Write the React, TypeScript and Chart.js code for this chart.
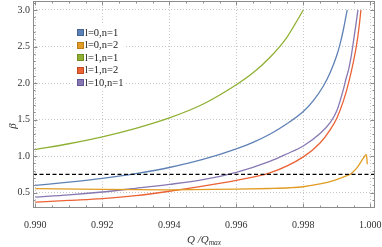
import React, { useEffect, useRef } from "react";
import { Chart, registerables } from "chart.js";

Chart.register(...registerables);

// Axis ranges and ticks
const X_MIN = 0.989931;
const X_MAX = 1.00014;
const Y_MIN = 0.291;
const Y_MAX = 3.123;
const X_TICKS = [0.99, 0.992, 0.994, 0.996, 0.998, 1.0];
const Y_TICKS = [0.5, 1.0, 1.5, 2.0, 2.5, 3.0];
const THRESHOLD = 0.75;

// Series: l=0,n=1 (blue)
const blueX = [0.990, 0.991, 0.992, 0.993, 0.994, 0.995, 0.996, 0.9965, 0.997, 0.9975, 0.998, 0.9983, 0.9986, 0.9988, 0.999, 0.9991, 0.9992, 0.99931];
const blueY = [0.60, 0.645, 0.697, 0.762, 0.845, 0.955, 1.10, 1.19, 1.30, 1.44, 1.61, 1.76, 1.96, 2.14, 2.38, 2.54, 2.74, 3.0];

// l=0,n=2 (orange)
const orangeX = [0.990, 0.992, 0.994, 0.996, 0.997, 0.9976, 0.998, 0.9985, 0.9989, 0.99914, 0.9993, 0.99939, 0.9995, 0.9996, 0.99973, 0.99982, 0.99987, 0.99989, 0.99991];
const orangeY = [0.555, 0.545, 0.54, 0.548, 0.558, 0.568, 0.582, 0.62, 0.665, 0.705, 0.735, 0.75, 0.79, 0.84, 0.93, 0.99, 1.02, 1.0, 0.89];

// l=1,n=1 (green)
const greenX = [0.990, 0.991, 0.992, 0.993, 0.994, 0.995, 0.996, 0.9965, 0.997, 0.9975, 0.998];
const greenY = [1.09, 1.17, 1.264, 1.38, 1.523, 1.71, 1.977, 2.14, 2.35, 2.62, 3.0];

// l=1,n=2 (red)
const redX = [0.990, 0.991, 0.992, 0.993, 0.994, 0.995, 0.996, 0.997, 0.998, 0.9985, 0.9988, 0.999, 0.9992, 0.99935, 0.9995, 0.9996, 0.99966, 0.99972];
const redY = [0.37, 0.395, 0.42, 0.46, 0.52, 0.59, 0.67, 0.77, 0.99, 1.18, 1.36, 1.52, 1.76, 2.0, 2.3, 2.55, 2.75, 3.0];

// l=10,n=1 (purple)
const purpleX = [0.990, 0.991, 0.992, 0.993, 0.994, 0.995, 0.996, 0.997, 0.9975, 0.998, 0.9985, 0.9988, 0.999, 0.9992, 0.99928, 0.99935, 0.99942, 0.9995, 0.99957, 0.99963];
const purpleY = [0.44, 0.47, 0.51, 0.56, 0.614, 0.68, 0.78, 0.93, 1.03, 1.14, 1.31, 1.46, 1.62, 1.92, 2.07, 2.18, 2.34, 2.58, 2.8, 3.0];

const SERIES_LABELS = ["l=0,n=1", "l=0,n=2", "l=1,n=1", "l=1,n=2", "l=10,n=1"];
const SERIES_COLORS = ["#5E81B5", "#E19C24", "#8FB032", "#EB6235", "#8778B3"];
const SERIES_BORDERS = ["#3f5f8f", "#b07714", "#6a8a1f", "#b8451f", "#5f5290"];

const SERIF = "'Liberation Serif', 'DejaVu Serif', serif";

const zip = (xs: number[], ys: number[]) => xs.map((x, i) => ({ x, y: ys[i] }));

const framePlugin = {
  id: "framePlugin",
  afterDatasetsDraw(chart: any) {
    const { ctx, chartArea } = chart;
    const { left, right, top, bottom } = chartArea;
    const xs = chart.scales.x;
    const ys = chart.scales.y;
    ctx.save();
    // frame
    ctx.strokeStyle = "#8c8c8c";
    ctx.lineWidth = 1;
    ctx.strokeRect(left + 0.5, top + 0.5, right - left - 1, bottom - top - 1);
    // ticks
    const drawX = (v: number, len: number) => {
      const px = Math.round(xs.getPixelForValue(v)) + 0.5;
      ctx.beginPath();
      ctx.moveTo(px, bottom);
      ctx.lineTo(px, bottom - len);
      ctx.moveTo(px, top);
      ctx.lineTo(px, top + len);
      ctx.stroke();
    };
    const drawY = (v: number, len: number) => {
      const py = Math.round(ys.getPixelForValue(v)) + 0.5;
      ctx.beginPath();
      ctx.moveTo(left, py);
      ctx.lineTo(left + len, py);
      ctx.moveTo(right, py);
      ctx.lineTo(right - len, py);
      ctx.stroke();
    };
    for (let i = 0; i <= 20; i++) {
      const v = 0.99 + i * 0.0005;
      drawX(v, i % 4 === 0 ? 4.5 : 2.5);
    }
    for (let i = 0; i <= 28; i++) {
      const v = 0.3 + i * 0.1;
      const major = Y_TICKS.some((t) => Math.abs(t - v) < 1e-6);
      drawY(v, major ? 4.5 : 2.5);
    }

    // legend
    ctx.fillStyle = "#ffffff";
    ctx.fillRect(75, 25, 50, 64);
    ctx.font = `10.5px ${SERIF}`;
    ctx.textBaseline = "middle";
    ctx.textAlign = "left";
    SERIES_LABELS.forEach((lab, i) => {
      const cy = 32.5 + i * 12.5;
      ctx.fillStyle = SERIES_COLORS[i];
      ctx.fillRect(77, Math.round(cy - 3.5), 7, 7);
      ctx.strokeStyle = SERIES_BORDERS[i];
      ctx.lineWidth = 0.8;
      ctx.strokeRect(77.5, Math.round(cy - 3.5) + 0.5, 6, 6);
      ctx.fillStyle = "#222";
      ctx.fillText(lab, 85, cy + 0.5);
    });

    // axis titles
    ctx.fillStyle = "#333";
    ctx.textBaseline = "alphabetic";
    ctx.font = `italic 11px ${SERIF}`;
    const main = "Q /Q";
    const x0 = 187;
    const base = 243;
    ctx.fillText(main, x0, base);
    const w = ctx.measureText(main).width;
    ctx.font = `italic 7.5px ${SERIF}`;
    ctx.fillText("max", x0 + w, base + 2);

    ctx.save();
    ctx.translate(16, 126);
    ctx.rotate(-Math.PI / 2);
    ctx.font = `italic 11px ${SERIF}`;
    ctx.textAlign = "center";
    ctx.fillText("\u03B2", 0, 0);
    ctx.restore();

    ctx.restore();
  },
};

export default function App() {
  const ref = useRef<HTMLCanvasElement | null>(null);
  useEffect(() => {
    if (!ref.current) return;
    const mk = (i: number, xs: number[], ys: number[]) => ({
      label: SERIES_LABELS[i],
      data: zip(xs, ys),
      borderColor: SERIES_COLORS[i],
      backgroundColor: SERIES_COLORS[i],
      borderWidth: 1.3,
      pointRadius: 0,
      showLine: true,
      fill: false,
      cubicInterpolationMode: "monotone" as const,
    });
    const chart = new Chart(ref.current, {
      type: "scatter",
      data: {
        datasets: [
          {
            label: "threshold",
            data: [
              { x: X_MIN, y: THRESHOLD },
              { x: X_MAX, y: THRESHOLD },
            ],
            borderColor: "#000",
            borderWidth: 1.2,
            borderDash: [4, 2.5],
            pointRadius: 0,
            showLine: true,
          } as any,
          mk(0, blueX, blueY),
          mk(1, orangeX, orangeY),
          mk(2, greenX, greenY),
          mk(3, redX, redY),
          mk(4, purpleX, purpleY),
        ],
      },
      options: {
        animation: false,
        responsive: false,
        events: [],
        layout: { padding: { left: 8, right: 7, top: 1, bottom: 0 } },
        plugins: { legend: { display: false }, tooltip: { enabled: false } },
        scales: {
          x: {
            type: "linear",
            min: X_MIN,
            max: X_MAX,
            afterFit: (s: any) => {
              s.height = 39;
              s.paddingLeft = 0;
              s.paddingRight = 0;
            },
            afterBuildTicks: (s: any) => {
              s.ticks = X_TICKS.map((v) => ({ value: v }));
            },
            ticks: {
              autoSkip: false,
              maxRotation: 0,
              padding: 11,
              color: "#333",
              font: { family: SERIF, size: 10 },
              callback: (v: any) => Number(v).toFixed(3),
            },
            grid: { drawTicks: false, color: "#c8c8c8", lineWidth: 1 },
            border: { display: false, dash: [1, 2] },
          },
          y: {
            type: "linear",
            min: Y_MIN,
            max: Y_MAX,
            afterFit: (s: any) => {
              s.width = 25;
              s.paddingTop = 0;
              s.paddingBottom = 0;
            },
            afterBuildTicks: (s: any) => {
              s.ticks = Y_TICKS.map((v) => ({ value: v }));
            },
            ticks: {
              autoSkip: false,
              padding: 3,
              color: "#333",
              font: { family: SERIF, size: 10 },
              callback: (v: any) => Number(v).toFixed(1),
            },
            grid: { drawTicks: false, color: "#c8c8c8", lineWidth: 1 },
            border: { display: false, dash: [1, 2] },
          },
        },
      },
      plugins: [framePlugin],
    });
    return () => chart.destroy();
  }, []);
  return (
    <div style={{ position: "absolute", left: 0, top: 0, width: 382, height: 247 }}>
      <canvas ref={ref} width={382} height={247} style={{ width: 382, height: 247 }} />
    </div>
  );
}
